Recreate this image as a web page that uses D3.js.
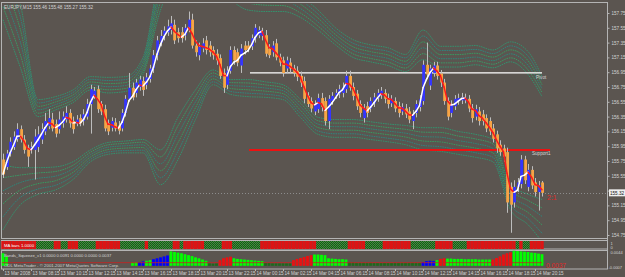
<!DOCTYPE html>
<html>
<head>
<meta charset="utf-8">
<script src="https://cdn.jsdelivr.net/npm/d3@7"></script>
<style>
html, body { margin: 0; padding: 0; background: #5b5550; }
svg { display: block; }
text { font-family: "Liberation Sans", Arial, sans-serif; }
</style>
</head>
<body>
<div id="chart"></div>
<script>
// EURJPY M15 candles, 13 Mar 06:15 .. 14 Mar 21:15
const opens = [
  155.77,155.67,155.85,155.94,156.05,156.18,156.04,155.93,155.90,155.90,
  155.94,156.04,156.15,156.22,156.31,156.25,156.18,156.26,156.31,156.40,
  156.29,156.26,156.33,156.29,156.35,156.52,156.63,156.72,156.52,156.45,
  156.26,156.20,156.27,156.23,156.19,156.40,156.59,156.74,156.67,156.75,
  156.83,156.78,156.86,157.00,157.18,157.35,157.45,157.49,157.52,157.59,
  157.49,157.49,157.45,157.55,157.66,157.31,157.18,157.27,157.38,157.31,
  157.25,157.20,157.14,156.94,156.78,156.97,157.25,157.22,157.04,157.31,
  157.31,157.30,157.41,157.45,157.44,157.45,157.27,157.22,157.34,157.15,
  157.11,157.00,157.08,157.00,156.97,156.90,156.83,156.63,156.56,156.42,
  156.45,156.60,156.56,156.29,156.56,156.63,156.66,156.67,156.72,156.90,
  156.75,156.66,156.52,156.33,156.49,156.46,156.53,156.60,156.64,156.67,
  156.60,156.53,156.56,156.49,156.42,156.46,156.42,156.29,156.40,156.48,
  156.56,157.05,156.77,156.94,157.04,156.93,156.81,156.56,156.40,156.49,
  156.56,156.57,156.57,156.59,156.46,156.35,156.42,156.38,156.33,156.29,
  156.19,156.11,155.97,155.92,155.87,155.40,155.19,155.40,155.44,155.77,
  155.40,155.63,155.46,155.33,155.46
];
const highs = [
  155.85,155.90,156.07,156.15,156.26,156.23,156.10,155.97,156.01,156.18,
  156.22,156.26,156.40,156.45,156.40,156.31,156.42,156.42,156.49,156.45,
  156.35,156.37,156.38,156.45,156.59,156.78,156.75,156.77,156.56,156.51,
  156.31,156.34,156.33,156.29,156.45,156.64,156.94,156.81,156.86,156.90,
  156.89,156.94,157.05,157.25,157.44,157.52,157.57,157.66,157.71,157.66,
  157.55,157.56,157.60,157.77,157.74,157.38,157.35,157.41,157.44,157.37,
  157.30,157.26,157.19,157.00,157.03,157.30,157.30,157.27,157.33,157.37,
  157.37,157.46,157.60,157.57,157.55,157.52,157.33,157.37,157.40,157.20,
  157.16,157.16,157.14,157.05,157.03,156.96,156.89,156.68,156.61,156.57,
  156.66,156.67,156.61,156.64,156.68,156.72,156.78,156.81,156.97,156.97,
  156.81,156.71,156.57,156.52,156.55,156.61,156.67,156.72,156.75,156.72,
  156.66,156.64,156.61,156.55,156.53,156.52,156.48,156.44,156.57,156.64,
  157.11,157.35,157.05,157.09,157.09,156.98,156.86,156.61,156.57,156.64,
  156.66,156.67,156.66,156.64,156.52,156.51,156.48,156.44,156.38,156.34,
  156.25,156.16,156.03,155.97,155.93,155.46,155.49,155.52,155.83,155.82,
  155.71,155.68,155.52,155.48,155.48
];
const lows = [
  155.52,155.63,155.81,155.90,156.01,156.00,155.85,155.67,155.85,155.50,
  155.87,155.98,156.10,156.18,156.15,156.07,156.12,156.20,156.27,156.20,
  156.12,156.22,156.22,156.23,156.31,156.12,156.59,156.40,156.37,156.15,
  156.10,156.15,156.15,156.11,156.15,156.35,156.55,156.57,156.61,156.70,
  156.63,156.72,156.81,156.94,157.11,157.30,157.38,157.44,157.46,157.33,
  157.35,157.35,157.38,157.49,157.27,157.16,157.11,157.22,157.19,157.16,
  157.12,157.05,156.86,156.67,156.72,156.93,157.05,157.03,156.94,157.19,
  157.22,157.25,157.35,157.41,157.38,157.16,157.14,157.16,157.11,157.03,
  156.89,156.94,156.94,156.89,156.83,156.75,156.53,156.48,156.41,156.37,
  156.40,156.42,156.23,156.18,156.51,156.59,156.60,156.61,156.67,156.70,
  156.57,156.44,156.34,156.27,156.34,156.41,156.48,156.55,156.59,156.53,
  156.46,156.48,156.41,156.34,156.37,156.33,156.26,156.18,156.34,156.42,
  156.51,156.86,156.71,156.89,156.85,156.75,156.51,156.30,156.34,156.44,
  156.51,156.52,156.53,156.41,156.27,156.30,156.23,156.23,156.14,156.10,
  156.00,155.86,155.82,155.74,155.05,154.78,155.12,155.33,155.38,155.44,
  155.34,155.37,155.27,155.08,155.27
];
const closes = [
  155.57,155.85,156.01,156.08,156.18,156.04,155.90,155.81,155.94,156.08,
  156.11,156.18,156.29,156.33,156.19,156.12,156.31,156.35,156.40,156.26,
  156.18,156.31,156.26,156.38,156.52,156.72,156.70,156.45,156.42,156.19,
  156.15,156.29,156.19,156.16,156.40,156.59,156.74,156.61,156.81,156.85,
  156.71,156.88,157.00,157.18,157.38,157.44,157.51,157.57,157.61,157.38,
  157.41,157.41,157.55,157.66,157.31,157.22,157.29,157.34,157.25,157.22,
  157.18,157.11,156.90,156.74,156.97,157.25,157.11,157.08,157.27,157.25,
  157.26,157.41,157.55,157.52,157.49,157.20,157.18,157.31,157.15,157.08,
  156.94,157.11,157.00,156.94,156.89,156.81,156.59,156.52,156.46,156.52,
  156.60,156.48,156.29,156.59,156.63,156.67,156.72,156.75,156.90,156.74,
  156.63,156.49,156.40,156.46,156.40,156.56,156.61,156.67,156.70,156.59,
  156.52,156.59,156.46,156.40,156.48,156.38,156.31,156.38,156.52,156.59,
  157.05,156.92,157.00,157.04,156.90,156.81,156.56,156.35,156.52,156.59,
  156.60,156.61,156.60,156.46,156.33,156.45,156.29,156.29,156.19,156.15,
  156.05,155.92,155.87,155.81,155.19,155.16,155.40,155.46,155.77,155.49,
  155.63,155.42,155.33,155.42,155.32
];

// envelope bands: inner / outer edge of each fan, sampled every 5 bars
const bandBars = [0,5,10,15,20,25,30,35,40,45,50,55,60,65,70,75,80,85,90,95,100,105,110,115,120,125,130,135,140,145,150,154];
const upperInner = [157.66,157.01,156.35,156.44,156.54,156.71,156.67,156.69,156.92,157.79,158.27,158.34,158.13,157.93,157.79,157.77,157.77,157.69,157.52,157.32,157.15,157.09,157.04,156.96,157.12,157.02,157.02,157.05,157.01,157.09,156.92,156.62];
const upperOuter = [158.54,157.86,156.58,156.62,156.71,156.89,156.88,156.89,157.15,158.34,158.94,159.01,158.74,158.47,158.27,158.20,158.17,157.99,157.79,157.55,157.39,157.32,157.28,157.19,157.52,157.30,157.30,157.31,157.25,157.36,157.23,156.89];
const lowerInner = [155.70,155.66,155.66,155.67,155.74,155.90,156.00,156.02,156.04,155.90,156.34,156.71,156.98,156.85,156.85,156.82,156.78,156.58,156.34,156.31,156.31,156.28,156.25,156.23,156.20,156.20,156.15,156.11,156.04,155.43,155.30,155.23];
const lowerOuter = [154.82,155.16,155.30,155.36,155.50,155.74,155.84,155.86,155.86,155.43,155.77,156.31,156.78,156.65,156.62,156.61,156.58,156.34,156.11,156.07,156.07,156.04,156.01,155.97,155.90,155.88,155.84,155.80,155.74,155.09,154.89,154.66];
const bandSteps = [0, 0.2, 0.4, 0.6, 0.8, 1];

// horizontal levels
const pivotLevel = 156.94;
const support1Level = 155.90;
const lastPrice = 155.32;

// MA bars sub-window: colour runs (r = down, g = up)
const maRunColors = ['r','g','r','g','r','g','r','g','r','g','r','g','r','g','r','g','r','g','r','g','r','g','r','g','r','g','r','g','r'];
const maRunLengths = [10,5,2,2,3,5,7,7,1,7,2,1,6,5,3,8,16,9,5,5,8,7,5,4,14,1,1,2,4];

// Bands_Squeeze_v1 histogram
const sqzValues = [
  .0040,.0030,0,0,0,0,0,0,0,0,
  0,0,0,0,0,0,0,0,0,0,
  0,0,0,0,0,0,0,0,0,0,
  0,0,0,0,0,0,0,.0010,.0012,.0012,
  .0014,.0016,.0018,.0021,.0024,.0027,.0030,.0033,.0046,.0044,
  .0042,.0040,.0037,.0034,.0031,.0027,.0024,.0020,.0016,.0008,
  .0007,.0008,.0018,.0024,.0027,.0029,.0024,.0022,.0021,.0020,
  .0019,.0018,.0017,.0016,.0015,.0009,.0009,.0008,.0008,.0008,
  .0008,.0008,.0008,.0018,.0022,.0025,.0028,.0031,.0034,.0036,
  .0036,.0035,.0034,.0024,.0023,.0022,.0021,.0021,.0020,.0011,
  .0011,.0010,.0010,.0010,.0010,.0010,.0009,.0009,.0009,.0009,
  .0009,.0009,.0010,.0010,.0010,.0010,.0010,.0010,.0010,.0010,
  .0012,.0015,.0016,.0015,.0018,.0022,.0024,.0023,.0023,.0022,
  .0022,.0022,.0021,.0021,.0021,.0021,.0020,.0020,.0020,.0020,
  .0020,.0025,.0030,.0036,.0040,.0043,.0048,.0047,.0046,.0045,
  .0044,.0042,.0041,.0039,.0037
];
const sqzRunColors = ['g','d','g','b','g','b','g','d','r','g','d','r','g','d','b','g','r','g','r','g'];
const sqzRunLengths = [2,35,2,2,2,5,11,3,4,9,8,6,10,21,4,1,2,13,6,9];
const sqzLevel = 0.0010;

// axes
const priceTicks = [157.75,157.55,157.35,157.15,156.95,156.75,156.55,156.35,156.15,155.95,155.75,155.55,155.35,155.15,154.95,154.75];
const timeLabels = ["13 Mar 2008","13 Mar 08:15","13 Mar 10:15","13 Mar 12:15","13 Mar 14:15","13 Mar 16:15","13 Mar 18:15","13 Mar 20:15","13 Mar 22:15","14 Mar 00:15","14 Mar 02:15","14 Mar 04:15","14 Mar 06:15","14 Mar 08:15","14 Mar 10:15","14 Mar 12:15","14 Mar 14:15","14 Mar 16:15","14 Mar 18:15","14 Mar 20:15"];
const barsPerLabel = 8;

const W = 625, H = 277;
const N = closes.length;
const axisX = 607.5;
const fs = 4.6;
const txt = "#d4d4d4";

const svg = d3.select("#chart").append("svg")
  .attr("width", W).attr("height", H)
  .attr("viewBox", [0, 0, W, H]);

svg.append("rect").attr("width", W).attr("height", H).attr("fill", "#5b5550");

const defs = svg.append("defs");
defs.append("clipPath").attr("id", "mainClip")
  .append("rect").attr("x", 2).attr("y", 4).attr("width", axisX - 2).attr("height", 234);

// dotted dark-green cells for the MA bars window
const pat = defs.append("pattern").attr("id", "greenDots")
  .attr("patternUnits", "userSpaceOnUse").attr("width", 2).attr("height", 2);
pat.append("rect").attr("width", 2).attr("height", 2).attr("fill", "#145a14");
pat.append("rect").attr("width", 1).attr("height", 1).attr("fill", "#3f8f3f");
pat.append("rect").attr("x", 1).attr("y", 1).attr("width", 1).attr("height", 1).attr("fill", "#3f8f3f");

const x = d3.scaleLinear().domain([0, N - 1]).range([3, 542]);
const y = d3.scaleLinear().domain([154.75, 157.75]).range([235, 13]);

// panel frames
const frame = "#b4b4b4";
svg.append("rect").attr("x", 1.5).attr("y", 2.5).attr("width", axisX - 1.5).attr("height", 236)
  .attr("fill", "none").attr("stroke", frame).attr("stroke-width", 1);
svg.append("rect").attr("x", 1.5).attr("y", 240.5).attr("width", axisX - 1.5).attr("height", 8.5)
  .attr("fill", "none").attr("stroke", frame).attr("stroke-width", 1);
svg.append("rect").attr("x", 1.5).attr("y", 250.5).attr("width", axisX - 1.5).attr("height", 18.5)
  .attr("fill", "none").attr("stroke", frame).attr("stroke-width", 1);

const main = svg.append("g").attr("clip-path", "url(#mainClip)");

// band fans
const bandColors = ["#2f9a72", "#37a068", "#2a8c7e", "#34a062", "#2b8a82", "#319670"];
const bandLine = d3.line()
  .x(d => x(d[0]))
  .y(d => y(d[1]))
  .curve(d3.curveMonotoneX);
[[upperInner, upperOuter], [lowerInner, lowerOuter]].forEach(([inner, outer]) => {
  bandSteps.forEach((f, j) => {
    const pts = bandBars.map((b, k) => [b, inner[k] + (outer[k] - inner[k]) * f]);
    main.append("path")
      .attr("d", bandLine(pts))
      .attr("fill", "none")
      .attr("stroke", bandColors[j])
      .attr("stroke-width", 0.9)
      .attr("stroke-dasharray", "1.6 0.8");
  });
});

// last price dotted line
main.append("line")
  .attr("x1", 2).attr("x2", axisX)
  .attr("y1", Math.round(y(lastPrice)) + 0.5).attr("y2", Math.round(y(lastPrice)) + 0.5)
  .attr("stroke", "#8c8c8c").attr("stroke-width", 1).attr("stroke-dasharray", "1 2");

// pivot / support levels
main.append("line")
  .attr("x1", 250).attr("x2", 542)
  .attr("y1", y(pivotLevel)).attr("y2", y(pivotLevel))
  .attr("stroke", "#ffffff").attr("stroke-width", 1.3);
main.append("line")
  .attr("x1", 249).attr("x2", 550)
  .attr("y1", y(support1Level)).attr("y2", y(support1Level))
  .attr("stroke", "#ee1111").attr("stroke-width", 2);

// candles
const idx = d3.range(N);
main.selectAll(".wick").data(idx).join("line")
  .attr("x1", i => Math.round(x(i)) + 0.5).attr("x2", i => Math.round(x(i)) + 0.5)
  .attr("y1", i => y(highs[i])).attr("y2", i => y(lows[i]))
  .attr("stroke", "#bdbdbd").attr("stroke-width", 1);
main.selectAll(".body").data(idx).join("rect")
  .attr("x", i => Math.round(x(i)) - 0.8)
  .attr("width", 2.8)
  .attr("y", i => y(Math.max(opens[i], closes[i])))
  .attr("height", i => Math.max(1, Math.abs(y(opens[i]) - y(closes[i]))))
  .attr("fill", i => closes[i] >= opens[i] ? "#3535ff" : "#f7a445");

// linear weighted moving average (4) of the closes, white rising / red falling
const ma = idx.map(i => {
  let s = 0, w = 0;
  for (let k = 0; k < 4 && i - k >= 0; k++) { s += (4 - k) * closes[i - k]; w += 4 - k; }
  return s / w;
});
main.selectAll(".ma").data(idx.slice(1)).join("line")
  .attr("x1", i => x(i - 1)).attr("y1", i => y(ma[i - 1]))
  .attr("x2", i => x(i)).attr("y2", i => y(ma[i]))
  .attr("stroke", i => ma[i] >= ma[i - 1] ? "#ffffff" : "#ff1a1a")
  .attr("stroke-width", 1.5).attr("stroke-linecap", "round");

// labels in main window
svg.append("text").attr("x", 4).attr("y", 8.5).attr("font-size", fs).attr("fill", txt)
  .text("EURJPY,M15  155.46 155.48 155.27 155.32");
svg.append("text").attr("x", 536).attr("y", 78.5).attr("font-size", fs).attr("fill", txt).text("Pivot");
svg.append("text").attr("x", 532).attr("y", 155).attr("font-size", fs).attr("fill", txt).text("Support1");
svg.append("text").attr("x", 547).attr("y", 200).attr("font-size", 7).attr("fill", "#e02828").text("2:1");

// price axis (the tick hidden under the last-price box keeps only its tick mark)
const ly = y(lastPrice);
const yAxis = svg.append("g").attr("transform", `translate(${axisX},0)`)
  .call(d3.axisRight(y).tickValues(priceTicks).tickFormat(d3.format(".2f")).tickSize(2));
yAxis.select(".domain").remove();
yAxis.selectAll("line").attr("stroke", frame);
yAxis.selectAll("text").attr("font-size", fs).attr("fill", txt).attr("x", 4)
  .attr("font-family", "Liberation Sans, Arial, sans-serif")
  .filter(d => Math.abs(y(d) - ly) < 7).remove();
svg.append("line").attr("x1", axisX).attr("x2", axisX).attr("y1", 2).attr("y2", 269)
  .attr("stroke", frame).attr("stroke-width", 1);
svg.append("rect").attr("x", axisX + 1.5).attr("y", ly - 3.5).attr("width", 16).attr("height", 7)
  .attr("fill", "#eeeeee");
svg.append("text").attr("x", axisX + 2.5).attr("y", ly + 1.8).attr("font-size", fs).attr("fill", "#111")
  .text(d3.format(".2f")(lastPrice));

// MA bars window
const maColorsPerBar = maRunColors.flatMap((c, k) => d3.range(maRunLengths[k]).map(() => c));
svg.append("g").selectAll("rect").data(idx).join("rect")
  .attr("x", i => x(i) - 1.75).attr("width", 3.5)
  .attr("y", 241).attr("height", 8)
  .attr("fill", i => maColorsPerBar[i] === "r" ? "#dc1414" : "url(#greenDots)");
svg.append("text").attr("x", 4).attr("y", 247).attr("font-size", 4.3).attr("fill", "#ffffff").text("MA bars 1.0000");
svg.append("text").attr("x", axisX + 3).attr("y", 244.5).attr("font-size", 4).attr("fill", txt).text("1");
svg.append("text").attr("x", axisX + 3).attr("y", 249).attr("font-size", 4).attr("fill", txt).text("0");

// squeeze window
const ys = d3.scaleLinear().domain([-0.0007, 0.0044]).range([268, 252]);
const sqzColorsPerBar = sqzRunColors.flatMap((c, k) => d3.range(sqzRunLengths[k]).map(() => c));
const sqzFill = { g: "#00ff00", d: "#1b6b1b", b: "#0000ff", r: "#ee1010" };
svg.append("g").selectAll("rect").data(idx).join("rect")
  .attr("x", i => x(i) - 1.4).attr("width", 2.8)
  .attr("y", i => ys(sqzValues[i]))
  .attr("height", i => Math.max(0, ys(0) - ys(sqzValues[i])))
  .attr("fill", i => sqzFill[sqzColorsPerBar[i]]);
svg.append("line").attr("x1", 2).attr("x2", 542)
  .attr("y1", ys(sqzLevel)).attr("y2", ys(sqzLevel))
  .attr("stroke", "#cc2020").attr("stroke-width", 0.8);
svg.append("text").attr("x", 4).attr("y", 257).attr("font-size", 4.2).attr("fill", txt)
  .text("Bands_Squeeze_v1 0.0000 0.0091 0.0000 0.0000 0.0037");
svg.append("text").attr("x", 4).attr("y", 267).attr("font-size", 4.3).attr("fill", txt)
  .text("ODL MetaTrader - © 2001-2007 MetaQuotes Software Corp.");
svg.append("text").attr("x", 546).attr("y", 268).attr("font-size", 6.5).attr("fill", "#e02828")
  .text(d3.format(".4f")(sqzValues[N - 1]));
svg.append("text").attr("x", axisX + 3).attr("y", 253.5).attr("font-size", 4).attr("fill", txt).text("0.0044");
svg.append("text").attr("x", axisX + 1).attr("y", 269).attr("font-size", 4).attr("fill", txt).text("-0.0007");

// time axis
const tAxis = svg.append("g");
timeLabels.forEach((label, k) => {
  const tx = Math.round(x(k * barsPerLabel)) + 0.5;
  tAxis.append("line").attr("x1", tx).attr("x2", tx).attr("y1", 269).attr("y2", 271)
    .attr("stroke", frame);
  tAxis.append("text").attr("x", tx + 1).attr("y", 275).attr("font-size", fs).attr("fill", txt).text(label);
});
</script>
</body>
</html>
